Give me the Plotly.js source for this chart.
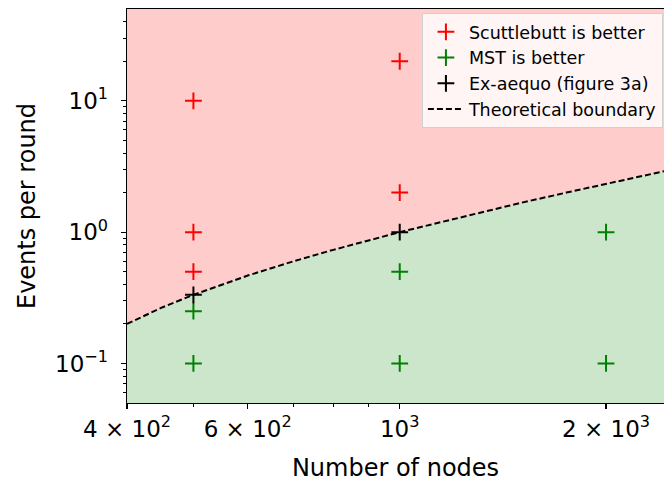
<!DOCTYPE html>
<html>
<head>
<meta charset="utf-8">
<script src="https://cdn.plot.ly/plotly-3.0.1.min.js"></script>
<style>html,body{margin:0;padding:0;background:#fff;}#chart{width:664px;height:482px;}</style>
</head>
<body>
<div id="chart"></div>
<script>
// Data
const scuttleX = [500, 500, 500, 1000, 1000];
const scuttleY = [10, 1, 0.5, 20, 2];
const mstX = [500, 500, 1000, 1000, 2000, 2000];
const mstY = [0.25, 0.1, 0.5, 0.1, 1, 0.1];
const exaequoX = [500, 1000];
const exaequoY = [0.333, 1];
const boundaryX = [400, 450, 500, 600, 700, 800, 1000, 1250, 1500, 1750, 2000, 2250, 2430];
const boundaryY = [0.2, 0.267, 0.333, 0.467, 0.6, 0.733, 1.0, 1.333, 1.667, 2.0, 2.333, 2.667, 2.907];
const xRange = [400, 2430];
const yRange = [0.05, 50];
const xTickVals = [400, 600, 1000, 2000];
const xTickText = ['4 × 10<sup>2</sup>', '6 × 10<sup>2</sup>', '10<sup>3</sup>', '2 × 10<sup>3</sup>'];
const xMinorVals = [500, 700, 800, 900];
const yTickVals = [0.1, 1, 10];
const yTickText = ['10<sup>−1</sup>', '10<sup>0</sup>', '10<sup>1</sup>'];
const yMinorVals = [0.06, 0.07, 0.08, 0.09, 0.2, 0.3, 0.4, 0.5, 0.6, 0.7, 0.8, 0.9, 2, 3, 4, 5, 6, 7, 8, 9, 20, 30, 40];

const FONT = 'DejaVu Sans, sans-serif';
const markerStyle = (c) => ({symbol: 'cross-thin-open', size: 12, line: {color: c, width: 2}, color: c});

const traces = [
  {x: boundaryX, y: boundaryX.map(() => yRange[0]), mode: 'lines', line: {width: 0}, showlegend: false, hoverinfo: 'skip'},
  {x: boundaryX, y: boundaryY, mode: 'lines', fill: 'tonexty', fillcolor: 'rgb(204,230,204)',
   line: {width: 0}, showlegend: false, hoverinfo: 'skip'},
  {x: boundaryX, y: boundaryY, mode: 'lines',
   line: {color: 'black', width: 2, dash: '6px,3px'}, name: 'Theoretical boundary', legendrank: 4},
  {x: scuttleX, y: scuttleY, mode: 'markers', marker: markerStyle('red'), name: 'Scuttlebutt is better', legendrank: 1},
  {x: mstX, y: mstY, mode: 'markers', marker: markerStyle('green'), name: 'MST is better', legendrank: 2},
  {x: exaequoX, y: exaequoY, mode: 'markers', marker: markerStyle('black'), name: 'Ex-aequo (figure 3a)', legendrank: 3}
];

const layout = {
  width: 664, height: 482,
  margin: {l: 127, r: 0, t: 9, b: 79},
  paper_bgcolor: 'white',
  plot_bgcolor: 'rgb(255,204,204)',
  font: {family: FONT, color: 'black'},
  showlegend: true,
  legend: {x: 0.998, y: 0.99, xanchor: 'right', yanchor: 'top', bgcolor: 'rgba(255,255,255,0.8)',
           traceorder: 'normal', itemwidth: 36,
           bordercolor: '#d0d0d0', borderwidth: 1, font: {family: FONT, size: 17.5}, tracegroupgap: 0},
  xaxis: {
    type: 'log', range: xRange.map(Math.log10), showgrid: false, zeroline: false,
    showline: true, linecolor: 'black', linewidth: 1.3, mirror: true,
    ticks: 'outside', ticklen: 5, tickwidth: 1.2, tickcolor: 'black',
    tickmode: 'array', tickvals: xTickVals, ticktext: xTickText,
    tickfont: {family: FONT, size: 23},
    minor: {tickmode: 'array', tickvals: xMinorVals, ticks: 'outside', ticklen: 3, tickwidth: 1, tickcolor: 'black', showgrid: false},
    title: {text: 'Number of nodes', font: {family: FONT, size: 24}, standoff: 18}
  },
  yaxis: {
    type: 'log', range: yRange.map(Math.log10), showgrid: false, zeroline: false,
    showline: true, linecolor: 'black', linewidth: 1.3, mirror: true,
    ticks: 'outside', ticklen: 5, tickwidth: 1.2, tickcolor: 'black', ticklabelstandoff: 8,
    tickmode: 'array', tickvals: yTickVals, ticktext: yTickText,
    tickfont: {family: FONT, size: 23},
    minor: {tickmode: 'array', tickvals: yMinorVals, ticks: 'outside', ticklen: 3, tickwidth: 1, tickcolor: 'black', showgrid: false},
    title: {text: 'Events per round', font: {family: FONT, size: 24}, standoff: 12}
  }
};

Plotly.newPlot('chart', traces, layout, {staticPlot: true, displayModeBar: false});
</script>
</body>
</html>
